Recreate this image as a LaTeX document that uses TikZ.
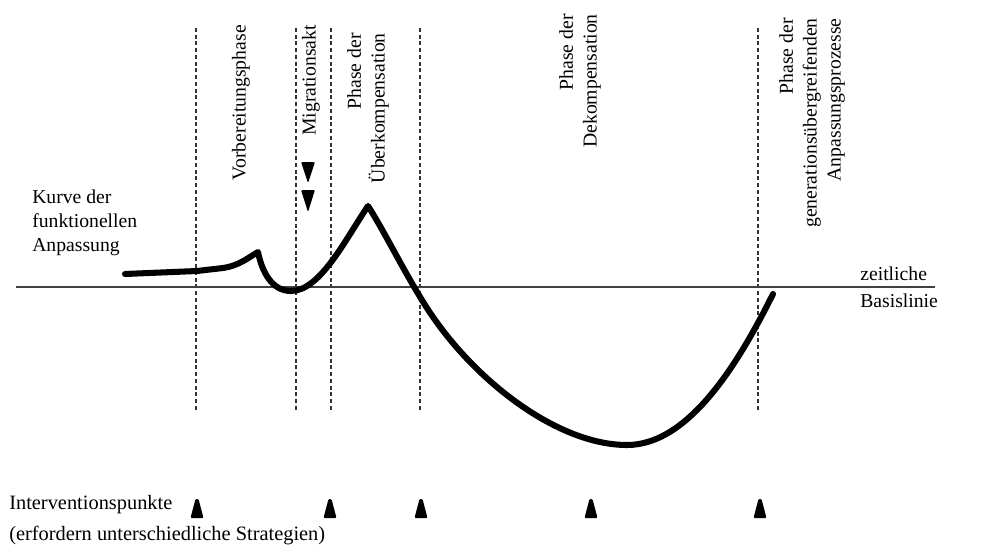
\documentclass[tikz,border=0pt]{standalone}
\usepackage{fontspec}
\setmainfont{Liberation Serif}
\usetikzlibrary{positioning}

\begin{document}
\begin{tikzpicture}[
    x=0.025cm,y=-0.025cm,
    font=\fontsize{14}{17}\selectfont,
    phase/.style={rotate=90, anchor=east, align=right, inner sep=0pt},
    txt/.style={align=left, inner sep=0pt},
    divider/.style={line width=0.9pt, draw=black!80, dash pattern=on 2.8pt off 2pt},
    basisline/.style={line width=1.2pt, draw=black!75},
    curve/.style={line width=4.3pt, line cap=round, line join=round},
    marker/.style={fill=black, rounded corners=0.8pt}
]
    \useasboundingbox (0,0) rectangle (984,545);

    % --- Phase boundaries ---
    \foreach \x in {196,296,331,420,758}
        \draw[divider] (\x,28) -- (\x,412);

    % --- Baseline ---
    \coordinate (bl_start) at (16,287);
    \coordinate (bl_end) at (935,287);
    \draw[basisline] (bl_start) -- (bl_end);
    \node[txt, anchor=base west] (bl_top) at (860,280) {zeitliche};
    \node[txt, anchor=base west] (bl_bot) at (860,307) {Basislinie};

    % --- Phase labels ---
    \node[phase] (ph_prep) at (241,25) {Vorbereitungsphase};
    \node[phase] (ph_migr) at (311,25) {Migrationsakt};
    \node[phase] (ph_over) at (368,33) {Phase der\\Überkompensation};
    \node[phase] (ph_deco) at (580,14) {Phase der\\Dekompensation};
    \node[phase] (ph_gen) at (812,18) {Phase der\\generationsübergreifenden\\Anpassungsprozesse};

    % --- Migration markers ---
    \fill[marker] (301,162) -- (315,162) -- (308,183) -- cycle;
    \fill[marker] (301,190) -- (315,190) -- (308,212) -- cycle;

    % --- Curve ---
    \node[txt, anchor=north west] (crv_label) at (32,190) {Kurve der\\funktionellen\\Anpassung};
    \draw[curve] (125,274) -- (197,271) -- (223,268)
        .. controls (238,266) and (248,258) .. (258,252)
        .. controls (262,272) and (272,291) .. (291,291)
        .. controls (320,291) and (345,240) .. (368,206)
        .. controls (385,232) and (410,284) .. (433,317)
        .. controls (480,385) and (560,445) .. (627,445)
        .. controls (690,445) and (740,360) .. (773,294);

    % --- Intervention points ---
    \node[txt, anchor=base west, font=\fontsize{14.5}{22}\selectfont] (iv_label) at (9,540)
        {Interventionspunkte\\(erfordern unterschiedliche Strategien)};
    \foreach \x in {197,330,421,591,760}
        \fill[marker] (\x-6.5,518) -- (\x+6.5,518) -- (\x+1.5,499) -- (\x-1.5,499) -- cycle;

\end{tikzpicture}
\end{document}
